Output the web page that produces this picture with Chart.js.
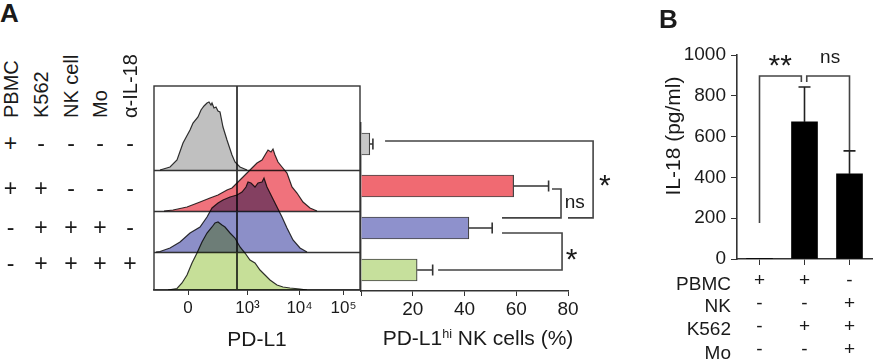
<!DOCTYPE html>
<html lang="en">
<head>
<meta charset="UTF-8">
<title>PD-L1 on NK cells and IL-18</title>
<style>
  body { margin: 0; background: #fff; font-family: "Liberation Sans", Arial, sans-serif; color: #1a1a1a; }
  #wrap { position: relative; width: 876px; height: 359px; overflow: hidden; }
  canvas { position: absolute; }
  .t { position: absolute; white-space: nowrap; line-height: 1; }
  .c { transform: translate(-50%, -50%); }
  .rot { transform-origin: left top; transform: rotate(-90deg) translate(0, -50%); }
  .rotc { transform: translate(-50%, -50%) rotate(-90deg); }
  .r { transform: translate(0, -50%); text-align: right; }
  sup { font-size: 60%; vertical-align: 0.55em; }
</style>
</head>
<body>
<div id="wrap">
  <canvas id="hist" width="230" height="289" style="left:140px; top:70px; width:230px; height:289px"></canvas>
  <canvas id="barA" width="290" height="289" style="left:345px; top:70px; width:290px; height:289px"></canvas>
  <canvas id="barB" width="236" height="359" style="left:640px; top:0px; width:236px; height:359px"></canvas>
</div>

<script src="https://cdn.jsdelivr.net/npm/chart.js"></script>
<script>
// ---- panel A data ----
const factorsA = ['PBMC', 'K562', 'NK cell', 'Mo', 'α-IL-18']
const signsA = [                       // one row per condition
  ['+', '-', '-', '-', '-'],
  ['+', '+', '-', '-', '-'],
  ['-', '+', '+', '+', '-'],
  ['-', '+', '+', '+', '+']
]
const conditionsA = ['PBMC', 'PBMC+K562', 'K562+NK+Mo', 'K562+NK+Mo+α-IL-18']
const pdl1Hi = [3.4, 59, 41.7, 21.7]      // PD-L1hi NK cells (%)
const pdl1HiErr = [1.2, 13.5, 9, 6]

// histograms: [channel, count]
const histPbmc = [[6,0],[16,3],[23,10],[29,27],[36,40],[39,47],[44,53],[47,60],[50,64],[53,67],[55,68],[57,65],[58,67],[60,62],[62,63],[64,59],[66,58],[69,43],[73,30],[78,15],[81,8],[86,3],[93,0]]
const histPbmcK562 = [[10,0],[19,1],[33,4],[46,9],[56,13],[64,16],[73,21],[78,23],[83,28],[88,33],[93,38],[98,43],[103,48],[108,51],[111,56],[114,61],[117,59],[119,62],[121,56],[124,49],[128,44],[133,38],[138,24],[143,18],[149,9],[156,3],[163,0]]
const histCoculture = [[2,0],[6,0.5],[16,4],[26,10],[36,19],[46,25],[53,35],[58,44],[64,49],[69,52],[76,55],[83,57],[88,60],[92,65],[94,70],[97,69],[101,65],[104,69],[108,70],[110,74],[113,65],[118,55],[123,45],[128,35],[133,24],[139,12],[146,4],[153,0]]
const histAntiIL18 = [[14,0],[23,1.5],[28,7],[33,15],[38,27],[43,37],[48,48],[53,57],[58,63],[61,67],[64,68],[68,65],[71,63],[76,57],[81,52],[86,43],[91,37],[96,30],[101,27],[106,20],[111,15],[116,10],[123,5],[129,3],[136,2],[146,1],[153,0]]
const histTicks = [34, 93.5, 145.5, 189.5]
const histTickLabels = ['0', '10³', '10⁴', '10⁵']
const gateAt = 83

// ---- panel B data ----
const factorsB = ['PBMC', 'NK', 'K562', 'Mo']
const signsB = [                       // one row per factor, one column per bar
  ['+', '+', '-'],
  ['-', '-', '+'],
  ['-', '+', '+'],
  ['-', '-', '+']
]
const il18 = [2, 672, 417]             // pg/ml
const il18Err = [0, 171, 113]

// ---- look ----
const FONT = '"Liberation Sans", Arial, sans-serif'
const INK = '#1a1a1a'
const LINE = '#333'
const histColors = ['#c0c0c0', '#f0727c', '#8c8fc8', '#c6df98']
const histBase = [120, 79, 38, 0]
const barColorsA = ['#c8c8c8', '#f06a72', '#8e91cc', '#c6e09c']
Chart.defaults.font.family = FONT
Chart.defaults.color = INK

// ---- html labels ----
const wrap = document.getElementById('wrap')
function txt(html, cls, style){
  const d = document.createElement('div')
  d.className = 't ' + cls
  d.innerHTML = html
  Object.assign(d.style, style)
  wrap.appendChild(d)
}
txt('A', '', {left: '0px', top: '0px', fontSize: '26px', fontWeight: 'bold'})
txt('B', '', {left: '659px', top: '6px', fontSize: '26px', fontWeight: 'bold'})
const colA = [10.5, 41, 71, 100, 130]
const rowA = [143, 188, 227, 263]
factorsA.forEach((f, j) => txt(f, 'rot', {left: colA[j] + 'px', top: '118px', fontSize: '20px'}))
signsA.forEach((row, i) => row.forEach((s, j) =>
  txt(s, 'c', {left: colA[j] + 'px', top: rowA[i] + 'px', fontSize: '23px'})))
txt('PD-L1', 'c', {left: '257px', top: '338px', fontSize: '21px'})
txt('PD-L1<sup>hi</sup> NK cells (%)', 'c', {left: '478px', top: '337px', fontSize: '21px'})
txt('IL-18 (pg/ml)', 'rotc', {left: '672px', top: '136px', fontSize: '21px'})
const rowB = [283, 305, 328, 352]
factorsB.forEach((f, i) => txt(f, 'r', {right: '145px', top: rowB[i] + 'px', fontSize: '19px'}))

// ---- plugins ----
const histFrame = {
  id: 'histFrame',
  beforeDatasetsDraw(chart){
    const {ctx, chartArea: a, scales: {x, y}} = chart
    ctx.save()
    ctx.strokeStyle = LINE
    ctx.lineWidth = 1.4
    ctx.strokeRect(a.left, a.top, a.width, a.height)
    ctx.beginPath()
    histBase.forEach(b => {
      if (b <= 0) return
      const py = Math.round(y.getPixelForValue(b)) + 0.5
      ctx.moveTo(a.left, py); ctx.lineTo(a.right, py)
    })
    ctx.stroke()
    ctx.lineWidth = 1.8
    ctx.beginPath()
    const gx = x.getPixelForValue(gateAt)
    ctx.moveTo(gx, a.top); ctx.lineTo(gx, a.bottom)
    ctx.stroke()
    ctx.restore()
    // overlapping histograms darken each other like the original overlay
    ctx.save()
    ctx.globalCompositeOperation = 'multiply'
  },
  afterDatasetsDraw(chart){
    chart.ctx.restore()
  }
}

const errorBars = {
  id: 'errorBars',
  afterDatasetsDraw(chart, args, opts){
    const {ctx} = chart
    const horiz = chart.options.indexAxis === 'y'
    const vScale = horiz ? chart.scales.x : chart.scales.y
    const vals = chart.data.datasets[0].data
    ctx.save()
    ctx.strokeStyle = opts.color
    ctx.lineWidth = opts.width
    chart.getDatasetMeta(0).data.forEach((bar, i) => {
      const e = opts.err[i]
      if (!e) return
      const end = vScale.getPixelForValue(vals[i] + e)
      const h = opts.cap / 2
      ctx.beginPath()
      if (horiz){
        ctx.moveTo(bar.x, bar.y); ctx.lineTo(end, bar.y)
        ctx.moveTo(end, bar.y - h); ctx.lineTo(end, bar.y + h)
      } else {
        ctx.moveTo(bar.x, bar.y); ctx.lineTo(bar.x, end)
        ctx.moveTo(bar.x - h, end); ctx.lineTo(bar.x + h, end)
      }
      ctx.stroke()
    })
    ctx.restore()
  }
}

// brackets given as [value, category index] pairs
const brackets = {
  id: 'brackets',
  afterDraw(chart, args, opts){
    const {ctx} = chart
    const horiz = chart.options.indexAxis === 'y'
    const vScale = horiz ? chart.scales.x : chart.scales.y
    const cScale = horiz ? chart.scales.y : chart.scales.x
    const c0 = cScale.getPixelForValue(0), c1 = cScale.getPixelForValue(1)
    const pt = ([v, c]) => {
      const pv = vScale.getPixelForValue(v), pc = c0 + c * (c1 - c0)
      return horiz ? [pv, pc] : [pc, pv]
    }
    ctx.save()
    ctx.strokeStyle = opts.color
    ctx.lineWidth = opts.width
    ctx.fillStyle = INK
    opts.items.forEach(b => {
      ctx.beginPath()
      b.path.forEach((p, k) => {
        const [px, py] = pt(p)
        k ? ctx.lineTo(px, py) : ctx.moveTo(px, py)
      })
      ctx.stroke()
      const [lx, ly] = pt(b.at)
      ctx.font = b.size + 'px ' + FONT
      ctx.textAlign = 'center'
      ctx.textBaseline = 'alphabetic'
      const m = ctx.measureText(b.label)
      ctx.fillText(b.label, lx, ly + (m.actualBoundingBoxAscent - m.actualBoundingBoxDescent) / 2)
    })
    ctx.restore()
  }
}

// ---- panel A: histograms ----
const histSets = [histPbmc, histPbmcK562, histCoculture, histAntiIL18]
new Chart(document.getElementById('hist'), {
  type: 'line',
  data: {
    datasets: histSets.map((pts, i) => ({
      data: pts.map(p => ({x: p[0], y: histBase[i] + p[1]})),
      borderColor: LINE,
      borderWidth: 1.2,
      backgroundColor: histColors[i],
      fill: {value: histBase[i]},
      pointRadius: 0,
      tension: 0,
      order: 3 - i
    }))
  },
  options: {
    responsive: false,
    animation: false,
    devicePixelRatio: 1,
    layout: {padding: {left: 14, right: 10, top: 16, bottom: 0}},
    plugins: {legend: {display: false}, tooltip: {enabled: false}},
    scales: {
      x: {
        type: 'linear', min: 0, max: 206,
        afterBuildTicks: s => { s.ticks = histTicks.map(v => ({value: v})) },
        ticks: {callback: (v, i) => histTickLabels[i], font: {size: 17}, padding: 3, maxRotation: 0, autoSkip: false},
        grid: {drawOnChartArea: false, tickLength: 5, color: LINE},
        border: {color: LINE, width: 1.4},
        afterFit: s => { s.height = 69 }
      },
      y: {min: 0, max: 204, display: false}
    }
  },
  plugins: [histFrame]
})

// ---- panel A: bars ----
new Chart(document.getElementById('barA'), {
  type: 'bar',
  data: {
    labels: conditionsA,
    datasets: [{data: pdl1Hi, backgroundColor: barColorsA, borderColor: '#444', borderWidth: 1.2, barThickness: 22}]
  },
  options: {
    indexAxis: 'y',
    responsive: false,
    animation: false,
    devicePixelRatio: 1,
    layout: {padding: {left: 16, right: 67, top: 53, bottom: 0}},
    plugins: {
      legend: {display: false}, tooltip: {enabled: false},
      errorBars: {err: pdl1HiErr, color: LINE, width: 1.6, cap: 11},
      brackets: {
        color: '#444', width: 1.6,
        items: [
          {path: [[9.3, -0.07], [89.7, -0.07], [89.7, 1.76], [80, 1.76]], label: '*', at: [94.2, 0.86], size: 30},
          {path: [[73.8, 1.07], [77.3, 1.07], [77.3, 1.76], [54.5, 1.76]], label: 'ns', at: [82.6, 1.40], size: 19},
          {path: [[54.5, 2.12], [77.7, 2.12], [77.7, 3.0], [29.8, 3.0]], label: '*', at: [81.4, 2.64], size: 30}
        ]
      }
    },
    scales: {
      x: {
        min: 0, max: 80,
        ticks: {stepSize: 20, callback: v => v === 0 ? '' : String(v), font: {size: 19}, padding: 2, maxRotation: 0},
        grid: {drawOnChartArea: false, tickLength: 5, color: LINE},
        border: {color: LINE, width: 1.4},
        afterFit: s => { s.height = 68 }
      },
      y: {
        ticks: {display: false},
        grid: {display: false},
        border: {color: LINE, width: 1.4},
        afterFit: s => { s.width = 0 }
      }
    }
  },
  plugins: [errorBars, brackets]
})

// ---- panel B ----
const labelsB = il18.map((_, j) => signsB.map(r => r[j]))
new Chart(document.getElementById('barB'), {
  type: 'bar',
  data: {
    labels: labelsB,
    datasets: [{data: il18, backgroundColor: '#000', barThickness: 26}]
  },
  options: {
    responsive: false,
    animation: false,
    devicePixelRatio: 1,
    layout: {padding: {left: 0, right: 4, top: 55, bottom: 0}},
    plugins: {
      legend: {display: false}, tooltip: {enabled: false},
      errorBars: {err: il18Err, color: '#222', width: 1.6, cap: 12},
      brackets: {
        color: '#444', width: 1.6,
        items: [
          {path: [[176, 0], [897, 0], [897, 0.93], [868, 0.93]], label: '**', at: [975, 0.46], size: 30},
          {path: [[868, 1.05], [897, 1.05], [897, 2], [534, 2]], label: 'ns', at: [985, 1.57], size: 19}
        ]
      }
    },
    scales: {
      x: {
        ticks: {font: {size: 19, lineHeight: '23px'}, padding: 4, maxRotation: 0},
        grid: {drawOnChartArea: false, offset: false, tickLength: 6, color: LINE},
        border: {color: LINE, width: 1.6},
        afterFit: s => { s.height = 100 }
      },
      y: {
        min: 0, max: 1000,
        ticks: {stepSize: 200, callback: v => String(v), font: {size: 19}, padding: 5},
        grid: {drawOnChartArea: false, tickLength: 6, color: LINE},
        border: {color: LINE, width: 1.6},
        afterFit: s => { s.width = 97 }
      }
    }
  },
  plugins: [errorBars, brackets]
})
</script>
</body>
</html>
